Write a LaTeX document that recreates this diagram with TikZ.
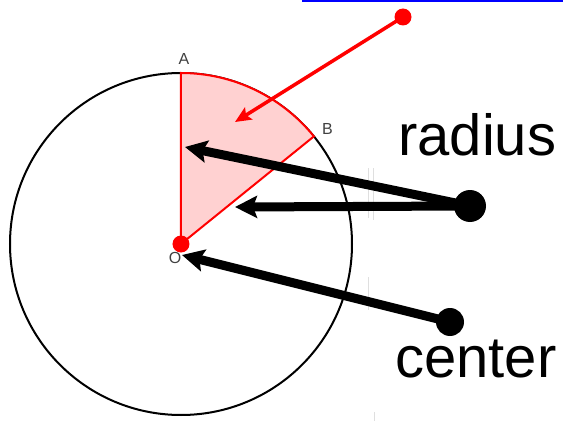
\documentclass[tikz,border=0pt]{standalone}
\usepackage{fontspec}
\setmainfont{Liberation Sans}
\usetikzlibrary{arrows.meta}
\tikzset{
  dot/.style={circle, fill, inner sep=0pt},
  bigword/.style={font=\fontsize{58}{60}\selectfont, inner sep=0pt, anchor=base west},
  ptlabel/.style={font=\fontsize{16}{18}\selectfont, text=black!75, inner sep=0pt},
  pointer/.style={line width=9pt, -{Stealth[length=22pt,width=22pt,inset=4pt]}},
}
\begin{document}
\begin{tikzpicture}[x=1pt, y=1pt]
\useasboundingbox (-181,-177) rectangle (382,244);
\draw[gray!25, line width=1pt] (187,76) -- (187,26);
\draw[gray!25, line width=1pt] (192,76) -- (192,24);
\draw[gray!25, line width=1pt] (187,-33) -- (187,-66);
\draw[gray!25, line width=1pt] (193,-168) -- (193,-177);
\draw[blue, line width=2.5pt] (121,243) -- (382,243);
\draw[line width=2pt] (0,0) circle (171);
\coordinate (A) at (90:171);
\coordinate (B) at (39:171);
\filldraw[fill=red!18, draw=red, line width=2pt] (0,0) -- (A) arc[start angle=90, end angle=39, radius=171] -- cycle;
\node[ptlabel, anchor=south] (labA) at (3,179) {A};
\node[ptlabel, anchor=south west] (labB) at (141,109) {B};
\node[ptlabel] (labO) at (-6,-14) {O};
\node[dot, red, minimum size=17pt] (O) at (0,0) {};
\node[dot, red, minimum size=17pt] (tail) at (222,227) {};
\coordinate (sector) at (54,122);
\draw[red, line width=3.5pt, -{Stealth[length=16pt,width=14pt,inset=3pt]}] (tail.center) -- (sector);
\node[dot, minimum size=32pt] (rdot) at (289,38) {};
\node[dot, minimum size=28pt] (cdot) at (269,-78) {};
\coordinate (rA) at (4,97);
\coordinate (rB) at (54,37);
\coordinate (cO) at (1,-11);
\draw[pointer] (rdot.center) -- (rA);
\draw[pointer] (rdot.center) -- (rB);
\draw[pointer] (cdot.center) -- (cO);
\node[bigword] (radius) at (217,89) {radius};
\node[bigword] (center) at (214,-133) {center};
\end{tikzpicture}
\end{document}
